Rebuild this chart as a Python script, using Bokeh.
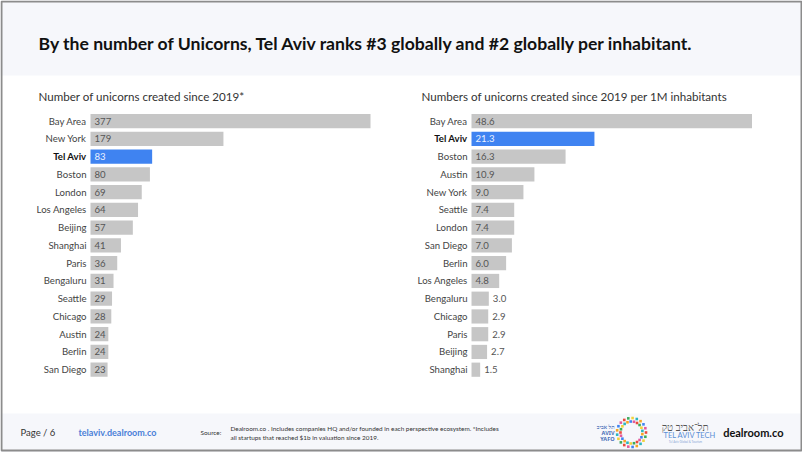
import numpy as np
from bokeh.plotting import figure
from bokeh.models import Range1d, ColumnDataSource
from bokeh.core.properties import value
from bokeh.embed import file_html
from bokeh.resources import INLINE

# ---------------- data ----------------
title_text = "By the number of Unicorns, Tel Aviv ranks #3 globally and #2 globally per inhabitant."
left_title = "Number of unicorns created since 2019*"
right_title = "Numbers of unicorns created since 2019 per 1M inhabitants"

left_cities = ["Bay Area", "New York", "Tel Aviv", "Boston", "London", "Los Angeles", "Beijing",
               "Shanghai", "Paris", "Bengaluru", "Seattle", "Chicago", "Austin", "Berlin", "San Diego"]
left_values = [377, 179, 83, 80, 69, 64, 57, 41, 36, 31, 29, 28, 24, 24, 23]

right_cities = ["Bay Area", "Tel Aviv", "Boston", "Austin", "New York", "Seattle", "London", "San Diego",
                "Berlin", "Los Angeles", "Bengaluru", "Chicago", "Paris", "Beijing", "Shanghai"]
right_values = [48.6, 21.3, 16.3, 10.9, 9.0, 7.4, 7.4, 7.0, 6.0, 4.8, 3.0, 2.9, 2.9, 2.7, 1.5]

highlight_city = "Tel Aviv"
source_line1 = "Dealroom.co . Includes companies HQ and/or founded in each perspective ecosystem. *Includes"
source_line2 = "all startups that reached $1b in valuation since 2019."

# ---------------- styling ----------------
FONT = "Lato"
GRAY_BAR = "#c6c6c6"
BLUE_BAR = "#3f83f1"
TXT = "#333333"
BAND = "#f6f7fb"

W, H = 802, 452
X0, X1, Y0, Y1 = 0, 802, 0, 452  # page coordinates covered by the figure

p = figure(width=W, height=H, x_range=Range1d(X0, X1), y_range=Range1d(Y1, Y0),
           output_backend="svg", toolbar_location=None, tools="",
           x_axis_location=None, y_axis_location=None, min_border=0)
p.grid.visible = False
p.outline_line_color = None
p.background_fill_color = "white"
p.border_fill_color = "white"

# header & footer bands, frame
p.quad(left=[X0], right=[X1], top=[Y0], bottom=[75], fill_color=BAND, line_color=None)
p.quad(left=[X0], right=[X1], top=[413], bottom=[Y1], fill_color=BAND, line_color=None)
p.quad(left=[X0 + 1], right=[X1 - 1], top=[Y0 + 1], bottom=[Y1 - 2], fill_color=None,
       line_color="#8c8c8c", line_width=2)

p.text(x=[38], y=[43], text=[title_text], text_font=value(FONT), text_font_style="bold",
       text_font_size="17.6px", text_color="#111111", text_baseline="middle", text_align="left")
p.text(x=[38], y=[96], text=[left_title], text_font=value(FONT), text_font_size="11.6px",
       text_color=TXT, text_baseline="middle", text_align="left")
p.text(x=[421], y=[96], text=[right_title], text_font=value(FONT), text_font_size="11.6px",
       text_color=TXT, text_baseline="middle", text_align="left")

# ---------------- bar charts ----------------
ROW0, ROWH = 120.7, 17.75
p.extra_y_ranges = {"rows": Range1d(start=(Y1 - ROW0) / ROWH, end=(Y0 - ROW0) / ROWH)}


def add_chart(name, cities, values, px_start, px_end, fmt, outside_below):
    s = (px_end - px_start) / max(values)
    p.extra_x_ranges[name] = Range1d((X0 - px_start) / s, (X1 - px_start) / s)
    n = len(cities)
    hl = [c == highlight_city for c in cities]
    inside = [v >= outside_below for v in values]
    src = ColumnDataSource(dict(
        i=list(range(n)), city=cities, v=values,
        lab=[fmt.format(v) for v in values],
        lx=[0 if ins else v for v, ins in zip(values, inside)],
        color=[BLUE_BAR if h else GRAY_BAR for h in hl],
        style=["bold" if h else "normal" for h in hl],
        ccol=["#111111" if h else "#444444" for h in hl],
        vcol=["#eaf1ff" if h else "#555555" for h in hl],
    ))
    p.hbar(y="i", left=0, right="v", height=0.8, fill_color="color", line_color=None,
           source=src, x_range_name=name, y_range_name="rows")
    p.text(x=0, y="i", text="city", x_offset=-4, text_align="right", text_baseline="middle",
           text_font=value(FONT), text_font_size="9.6px", text_font_style="style",
           text_color="ccol", source=src, x_range_name=name, y_range_name="rows")
    p.text(x="lx", y="i", text="lab", x_offset=4, text_align="left", text_baseline="middle",
           text_font=value(FONT), text_font_size="9.6px", text_color="vcol",
           source=src, x_range_name=name, y_range_name="rows")


add_chart("left", left_cities, left_values, 90, 370, "{:.0f}", 0)
add_chart("right", right_cities, right_values, 471, 751.5, "{:.1f}", 4)

# ---------------- footer ----------------
p.text(x=[20], y=[432], text=["Page / 6"], text_font=value(FONT), text_font_size="9.5px",
       text_color=TXT, text_baseline="middle")
p.text(x=[78], y=[432], text=["telaviv.dealroom.co"], text_font=value(FONT), text_font_style="bold",
       text_font_size="9px", text_color="#4a7fd8", text_baseline="middle")
p.text(x=[200], y=[432], text=["Source:"], text_font=value(FONT), text_font_size="6.4px",
       text_color=TXT, text_baseline="middle")
p.text(x=[230, 230], y=[427.5, 436.5], text=[source_line1, source_line2], text_font=value(FONT),
       text_font_size="6.4px", text_color=TXT, text_baseline="middle")

# Tel Aviv-Yafo logo (decorative)
ang = np.linspace(0, 2 * np.pi, 42, endpoint=False)
rad = np.where(np.arange(42) % 2 == 0, 14.5, 11)
logo_cols = ["#e94b3c", "#f6a623", "#3dab5b", "#3f83f1", "#f3d23a", "#e25b9c", "#2cb5c0"]
p.rect(x=631 + rad * np.cos(ang), y=432 + rad * np.sin(ang), width=2.6, height=2.6,
       fill_color=[logo_cols[k % 7] for k in range(42)], line_color=None)
p.text(x=[614, 614, 614], y=[426, 432, 438], text=["תל אביב", "AVIV", "YAFO"],
       text_font=value("Noto Sans"), text_font_size="5.5px", text_color="#4a6fb8",
       text_align="right", text_baseline="middle", text_font_style="bold")

# Tel Aviv Tech
p.text(x=[708], y=[426.5], text=["תל־אביב טק"], text_font=value("Noto Sans"), text_font_size="10px",
       text_color="#555555", text_align="right", text_baseline="middle")
p.text(x=[663], y=[435], text=["TEL AVIV TECH"], text_font=value(FONT), text_font_size="7.5px",
       text_color="#5b8fd6", text_align="left", text_baseline="middle")
p.text(x=[685], y=[441], text=["Tel Aviv Global & Tourism"], text_font=value(FONT), text_font_size="3px",
       text_color="#8aa8d8", text_align="center", text_baseline="middle")

p.text(x=[783], y=[432], text=["dealroom.co"], text_font=value(FONT), text_font_style="bold",
       text_font_size="11px", text_color="#111111", text_align="right", text_baseline="middle")

open("out.html", "w").write(file_html(p, INLINE))
